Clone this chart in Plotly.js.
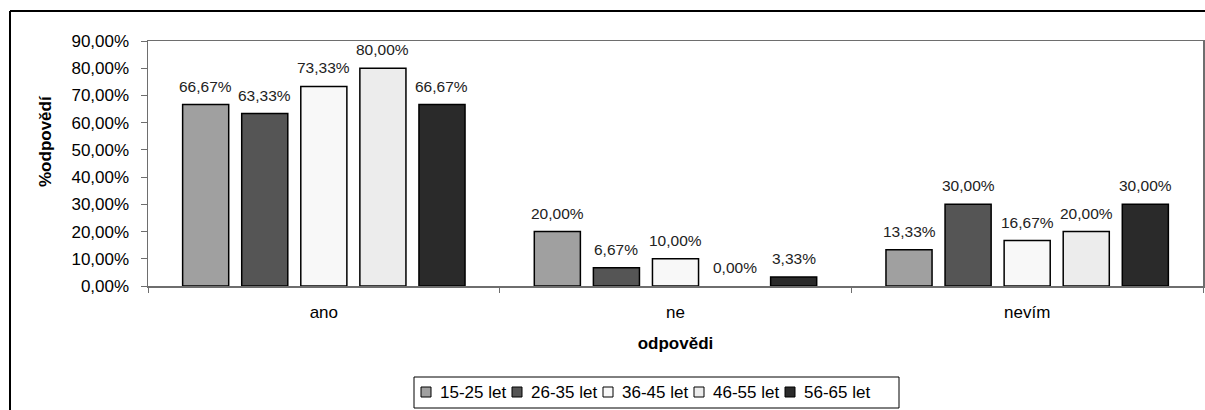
<!DOCTYPE html>
<html>
<head>
<meta charset="utf-8">
<script src="https://cdn.plot.ly/plotly-3.0.1.min.js"></script>
<style>
  html, body { margin: 0; padding: 0; background: #fff; }
  #chart { width: 1205px; height: 410px; }
</style>
</head>
<body>
<div id="chart"></div>
<script>
// Answer categories on the x axis
const categories = ['ano', 'ne', 'nevím'];

// Age groups (one bar series each)
const seriesNames = ['15-25 let', '26-35 let', '36-45 let', '46-55 let', '56-65 let'];

// Share of answers per age group, in the order of `categories`
const age15_25 = [0.6667, 0.2000, 0.1333];
const age26_35 = [0.6333, 0.0667, 0.3000];
const age36_45 = [0.7333, 0.1000, 0.1667];
const age46_55 = [0.8000, 0.0000, 0.2000];
const age56_65 = [0.6667, 0.0333, 0.3000];

const seriesValues = [age15_25, age26_35, age36_45, age46_55, age56_65];
const seriesColors = ['#a0a0a0', '#555555', '#f8f8f8', '#ececec', '#2a2a2a'];

const yTicks = [0, 0.1, 0.2, 0.3, 0.4, 0.5, 0.6, 0.7, 0.8, 0.9];

const FONT = 'Liberation Sans, Arial, sans-serif';

// Figure geometry
const W = 1205, H = 410;
const M = { l: 148, r: 2, t: 41, b: 124 };
const plotW = W - M.l - M.r;
const plotH = H - M.t - M.b;
const BARGAP = 0.16, BARGROUPGAP = 0.22;

// pixel -> paper coordinate helpers
const px = x => (x - M.l) / plotW;
const py = y => (H - M.b - y) / plotH;

const fmtPct = v => (v * 100).toFixed(2).replace('.', ',') + '%';

const traces = seriesNames.map((name, i) => ({
  type: 'bar',
  name: name,
  x: categories,
  y: seriesValues[i],
  marker: {
    color: seriesColors[i],
    // empty bars get no outline
    line: { color: '#000', width: seriesValues[i].map(v => (v > 0 ? 1.5 : 0)) }
  },
  showlegend: false,
  hoverinfo: 'skip'
}));

// Value labels above each bar, shifted to the bar's slot inside its group
const nSeries = seriesNames.length;
const slot = plotW / categories.length * (1 - BARGAP) / nSeries;
const annotations = [];
seriesValues.forEach((vals, i) => {
  vals.forEach((v, j) => {
    annotations.push({
      x: categories[j], y: v, xref: 'x', yref: 'y',
      xshift: (i - (nSeries - 1) / 2) * slot, yshift: 8,
      yanchor: 'bottom', xanchor: 'center',
      text: fmtPct(v), showarrow: false,
      font: { family: FONT, size: 15.5, color: '#222' }
    });
  });
});

// Y axis title
annotations.push({
  xref: 'paper', yref: 'paper', x: px(45), y: py(141),
  text: '%odpovědí', textangle: -90, showarrow: false,
  xanchor: 'center', yanchor: 'middle',
  font: { family: FONT, size: 17, color: '#000', weight: 'bold' }
});

// Legend: framed row of swatches and series names
const legendBox = { x0: 414, x1: 899, y0: 377, y1: 408 };
const legendStep = 91;
const shapes = [
  // outer chart frame (top and left edges)
  { type: 'line', xref: 'paper', yref: 'paper', x0: px(10), x1: px(W + 5), y0: py(11), y1: py(11), line: { color: '#000', width: 2 } },
  { type: 'line', xref: 'paper', yref: 'paper', x0: px(10), x1: px(10), y0: py(11), y1: py(H + 5), line: { color: '#000', width: 2 } },
  { type: 'rect', xref: 'paper', yref: 'paper', x0: px(legendBox.x0), x1: px(legendBox.x1), y0: py(legendBox.y0), y1: py(legendBox.y1), line: { color: '#000', width: 1 }, fillcolor: '#fff' }
];
seriesNames.forEach((name, i) => {
  const sx = 421 + i * legendStep;
  shapes.push({
    type: 'rect', xref: 'paper', yref: 'paper',
    x0: px(sx), x1: px(sx + 10), y0: py(387), y1: py(397),
    fillcolor: seriesColors[i], line: { color: '#000', width: 1 }
  });
  annotations.push({
    xref: 'paper', yref: 'paper', x: px(sx + 17), y: py(392),
    xanchor: 'left', yanchor: 'middle', text: name, showarrow: false,
    font: { family: FONT, size: 17, color: '#000' }
  });
});

const layout = {
  width: W,
  height: H,
  margin: M,
  paper_bgcolor: '#fff',
  plot_bgcolor: '#fff',
  separators: ',.',
  barmode: 'group',
  bargap: BARGAP,
  bargroupgap: BARGROUPGAP,
  font: { family: FONT, color: '#000' },
  showlegend: false,
  xaxis: {
    type: 'category',
    showline: true, linecolor: '#6e6e6e', linewidth: 1.5, mirror: true,
    ticks: 'outside', tickson: 'boundaries', ticklen: 5, tickcolor: '#6e6e6e',
    tickfont: { family: FONT, size: 17, color: '#000' },
    ticklabelstandoff: 10,
    title: { text: 'odpovědi', font: { family: FONT, size: 17, color: '#000', weight: 'bold' }, standoff: 16 },
    showgrid: false, zeroline: false, fixedrange: true
  },
  yaxis: {
    range: [0, 0.9],
    tickvals: yTicks,
    tickformat: '.2%',
    showline: true, linecolor: '#6e6e6e', linewidth: 1.5, mirror: true,
    ticks: 'outside', ticklen: 6, tickcolor: '#6e6e6e',
    tickfont: { family: FONT, size: 17, color: '#000' },
    ticklabelstandoff: 8,
    showgrid: false, zeroline: false, fixedrange: true
  },
  annotations: annotations,
  shapes: shapes
};

Plotly.newPlot('chart', traces, layout, { staticPlot: true, displayModeBar: false });
</script>
</body>
</html>
